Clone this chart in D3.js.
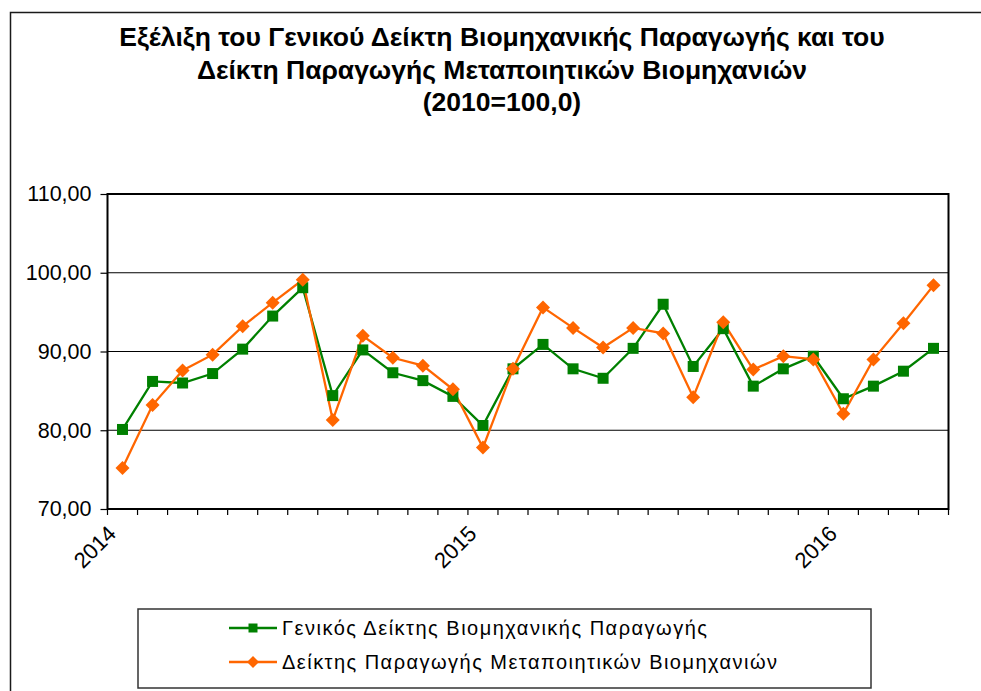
<!DOCTYPE html>
<html>
<head>
<meta charset="utf-8">
<script src="https://cdn.jsdelivr.net/npm/d3@7"></script>
<style>
  html, body { margin: 0; padding: 0; background: #fff; }
  svg { display: block; }
</style>
</head>
<body>
<svg id="chart" width="981" height="691"></svg>
<script>
// ---- data ----
const categories = ["2014-01","2014-02","2014-03","2014-04","2014-05","2014-06","2014-07","2014-08","2014-09","2014-10","2014-11","2014-12",
                    "2015-01","2015-02","2015-03","2015-04","2015-05","2015-06","2015-07","2015-08","2015-09","2015-10","2015-11","2015-12",
                    "2016-01","2016-02","2016-03","2016-04"];
const generalIndex = [80.1, 86.2, 86.0, 87.2, 90.3, 94.5, 98.1, 84.4, 90.2, 87.3, 86.3, 84.3,
                      80.6, 87.8, 90.9, 87.8, 86.6, 90.4, 96.0, 88.1, 92.9, 85.6, 87.8, 89.4,
                      84.0, 85.6, 87.5, 90.4];
const manufIndex   = [75.2, 83.2, 87.6, 89.6, 93.2, 96.2, 99.1, 81.3, 92.0, 89.2, 88.2, 85.2,
                      77.8, 87.8, 95.6, 93.0, 90.5, 93.0, 92.3, 84.2, 93.7, 87.7, 89.4, 89.0,
                      82.1, 89.0, 93.6, 98.4];
const yTicks = [70, 80, 90, 100, 110];
const xTickLabels = {"2014-01": "2014", "2015-01": "2015", "2016-01": "2016"};
const seriesNames = ["Γενικός Δείκτης Βιομηχανικής Παραγωγής", "Δείκτης Παραγωγής Μεταποιητικών Βιομηχανιών"];
const titleLines = ["Εξέλιξη του Γενικού Δείκτη Βιομηχανικής Παραγωγής και του",
                    "Δείκτη Παραγωγής Μεταποιητικών Βιομηχανιών",
                    "(2010=100,0)"];

// ---- layout ----
const svg = d3.select("#chart");
const plot = {left: 107.5, right: 948.5, top: 194, bottom: 509};
const GREEN = "#008000", ORANGE = "#FF6600";
const FONT = "'Liberation Sans', Arial, sans-serif";

const x = d3.scaleBand().domain(categories).range([plot.left, plot.right]);
const y = d3.scaleLinear().domain([70, 110]).range([plot.bottom, plot.top]);
const locale = d3.formatLocale({decimal: ",", thousands: ".", grouping: [3], currency: ["", "€"]});
const fmt = locale.format(".2f");

// outer chart border (top/left visible)
svg.append("rect").attr("x", 10.5).attr("y", 12.5).attr("width", 1000).attr("height", 700)
  .attr("fill", "none").attr("stroke", "#1a1a1a").attr("stroke-width", 1.5);

// title
const title = svg.append("g").attr("font-family", "'Liberation Sans Narrow', 'Liberation Sans', Arial, sans-serif")
  .attr("font-weight", "bold").attr("font-size", 26.5).attr("text-anchor", "middle");
const titleY = [46, 79, 111];
titleLines.forEach((t, i) => {
  title.append("text").attr("x", 502).attr("y", titleY[i]).text(t);
});

// gridlines
svg.append("g").selectAll("line").data(yTicks.filter(v => v > 70 && v < 110)).join("line")
  .attr("x1", plot.left).attr("x2", plot.right)
  .attr("y1", d => y(d)).attr("y2", d => y(d))
  .attr("stroke", "#000").attr("stroke-width", 1.2);

// plot border
svg.append("rect").attr("x", plot.left).attr("y", plot.top)
  .attr("width", plot.right - plot.left).attr("height", plot.bottom - plot.top)
  .attr("fill", "none").attr("stroke", "#000").attr("stroke-width", 2);

// y axis
const yAxis = svg.append("g").attr("transform", `translate(${plot.left},0)`)
  .call(d3.axisLeft(y).tickValues(yTicks).tickFormat(fmt).tickSize(7).tickPadding(9).tickSizeOuter(0));
yAxis.select(".domain").remove();
yAxis.selectAll("line").attr("stroke", "#000").attr("stroke-width", 1.2);
yAxis.selectAll("text").attr("font-family", FONT).attr("font-size", 21.5).attr("fill", "#000");

// x axis tick marks at category boundaries
const boundaries = categories.map(c => x(c)).concat([x(categories[categories.length - 1]) + x.bandwidth()]);
svg.append("g").selectAll("line").data(boundaries).join("line")
  .attr("x1", d => d).attr("x2", d => d)
  .attr("y1", plot.bottom).attr("y2", plot.bottom + 6)
  .attr("stroke", "#000").attr("stroke-width", 1.2);

// x labels
const xLab = svg.append("g").attr("font-family", FONT).attr("font-size", 22).attr("fill", "#000");
categories.forEach(c => {
  if (!xTickLabels[c]) return;
  const px = x(c) + x.bandwidth() / 2 - 5;
  const py = plot.bottom + 26;
  xLab.append("text").attr("text-anchor", "end")
    .attr("transform", `translate(${px},${py}) rotate(-45)`).text(xTickLabels[c]);
});

// lines
const lineGen = d3.line().x((d, i) => x(categories[i]) + x.bandwidth() / 2).y(d => y(d));
svg.append("path").datum(generalIndex).attr("d", lineGen)
  .attr("fill", "none").attr("stroke", GREEN).attr("stroke-width", 2.3);
svg.append("path").datum(manufIndex).attr("d", lineGen)
  .attr("fill", "none").attr("stroke", ORANGE).attr("stroke-width", 2.3);

const square = "M-5.5,-5.5H5.5V5.5H-5.5Z";
const diamond = "M0,-7L7,0L0,7L-7,0Z";
svg.append("g").selectAll("path").data(generalIndex).join("path")
  .attr("d", square)
  .attr("transform", (d, i) => `translate(${x(categories[i]) + x.bandwidth() / 2},${y(d)})`)
  .attr("fill", GREEN);
svg.append("g").selectAll("path").data(manufIndex).join("path")
  .attr("d", diamond)
  .attr("transform", (d, i) => `translate(${x(categories[i]) + x.bandwidth() / 2},${y(d)})`)
  .attr("fill", ORANGE);

// legend
const lg = svg.append("g");
lg.append("rect").attr("x", 138).attr("y", 609).attr("width", 733).attr("height", 79)
  .attr("fill", "#fff").attr("stroke", "#333").attr("stroke-width", 1.5);
const legendItems = [
  {name: seriesNames[0], color: GREEN, shape: "M-4.5,-4.5H4.5V4.5H-4.5Z", y: 628, w: 425},
  {name: seriesNames[1], color: ORANGE, shape: "M0,-6L6,0L0,6L-6,0Z", y: 662, w: 495}
];
legendItems.forEach(it => {
  lg.append("line").attr("x1", 229).attr("x2", 277).attr("y1", it.y).attr("y2", it.y)
    .attr("stroke", it.color).attr("stroke-width", 2.3);
  lg.append("path").attr("d", it.shape).attr("transform", `translate(253,${it.y})`).attr("fill", it.color);
  lg.append("text").attr("x", 282).attr("y", it.y + 7)
    .attr("font-family", FONT).attr("font-size", 20).attr("fill", "#000")
    .attr("textLength", it.w).attr("lengthAdjust", "spacing")
    .text(it.name);
});
</script>
</body>
</html>
